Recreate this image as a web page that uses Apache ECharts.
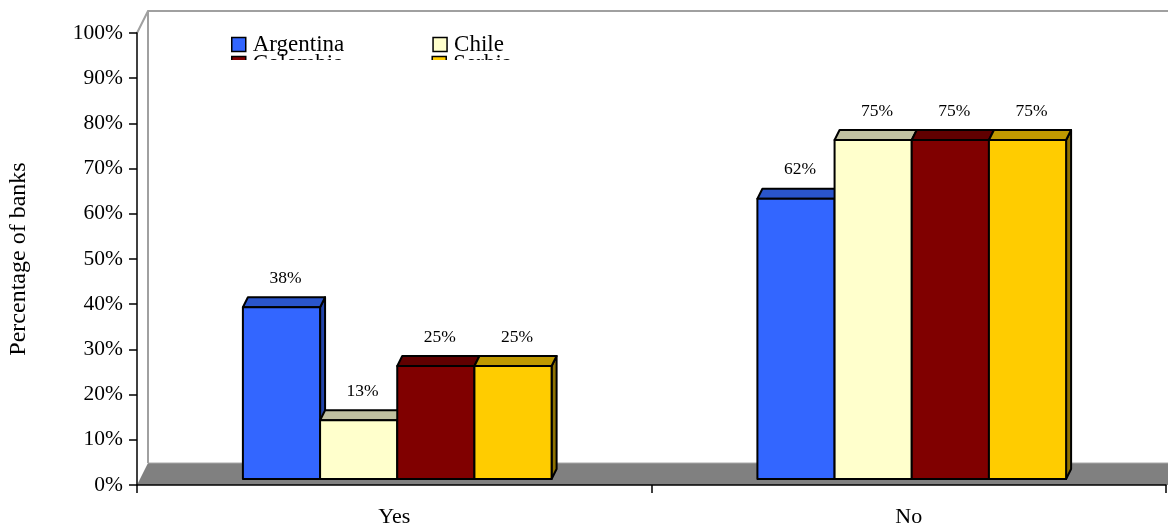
<!DOCTYPE html>
<html>
<head>
<meta charset="utf-8">
<script src="https://cdn.jsdelivr.net/npm/echarts@6/dist/echarts.min.js"></script>
<style>
html,body{margin:0;padding:0;background:#fff;}
#chart{width:1168px;height:527px;}
</style>
</head>
<body>
<div id="chart"></div>
<script>
// ---- data ----
const categories = ['Yes', 'No'];
const seriesNames = ['Argentina', 'Chile', 'Colombia', 'Serbia'];
const argentina = [38, 62];
const chile = [13, 75];
const colombia = [25, 75];
const serbia = [25, 75];
const yAxisTitle = 'Percentage of banks';

// ---- styling ----
const seriesValues = [argentina, chile, colombia, serbia];
const frontColors = ['#3366FF', '#FFFFCC', '#800000', '#FFCC00'];
const topColors = ['#2A55CC', '#C0C0A0', '#600000', '#C09900'];
const sideColors = ['#2244AA', '#9A9A80', '#4A0000', '#8F7200'];
const FONT = '"Liberation Serif", "Times New Roman", serif';
const WALL_DX = 11, WALL_DY = -22;   // depth of the floor / wall
const FRONT_DX = 3, FRONT_DY = -6;   // bars' front plane shift
const BAR_DX = 5, BAR_DY = -10;      // bar depth
const GROUP_FRAC = 0.6;

function renderWall(params, api) {
  const cs = params.coordSys;
  const x0 = cs.x, yBot = cs.y + cs.height, yTop = cs.y;
  const right = api.getWidth();
  return {
    type: 'group',
    children: [
      { type: 'polygon', shape: { points: [[x0, yBot], [x0 + WALL_DX, yBot + WALL_DY], [right, yBot + WALL_DY], [right, yBot]] },
        style: { fill: '#808080' } },
      { type: 'line', shape: { x1: x0 + WALL_DX, y1: yBot + WALL_DY, x2: right, y2: yBot + WALL_DY },
        style: { stroke: '#A8A8A8', lineWidth: 1 } },
      { type: 'polyline', shape: { points: [[x0, yTop], [x0 + WALL_DX, yTop + WALL_DY], [right, yTop + WALL_DY]] },
        style: { stroke: '#A0A0A0', lineWidth: 2, fill: null } },
      { type: 'line', shape: { x1: x0 + WALL_DX, y1: yTop + WALL_DY, x2: x0 + WALL_DX, y2: yBot + WALL_DY },
        style: { stroke: '#A0A0A0', lineWidth: 2 } }
    ]
  };
}

function makeBarRender(si) {
  const n = seriesNames.length;
  return function (params, api) {
    const c = api.value(0), v = api.value(1);
    const base = api.coord([c, 0]);
    const topPt = api.coord([c, v]);
    const band = api.size([1, 0])[0];
    const W = band * GROUP_FRAC / n;
    const xl = base[0] - W * n / 2 + si * W + FRONT_DX;
    const xr = xl + W;
    const yb = base[1] + FRONT_DY;
    const yt = topPt[1] + FRONT_DY;
    const stroke = { stroke: '#000', lineWidth: 2, lineJoin: 'round' };
    return {
      type: 'group',
      children: [
        { type: 'polygon', shape: { points: [[xr, yt], [xr + BAR_DX, yt + BAR_DY], [xr + BAR_DX, yb + BAR_DY], [xr, yb]] },
          style: Object.assign({ fill: sideColors[si] }, stroke) },
        { type: 'polygon', shape: { points: [[xl, yt], [xl + BAR_DX, yt + BAR_DY], [xr + BAR_DX, yt + BAR_DY], [xr, yt]] },
          style: Object.assign({ fill: topColors[si] }, stroke) },
        { type: 'rect', shape: { x: xl, y: yt, width: W, height: yb - yt },
          style: Object.assign({ fill: frontColors[si] }, stroke) },
        { type: 'text', style: { text: v + '%', x: (xl + xr) / 2 + 4, y: yt - 29, fill: '#000',
          fontSize: 17.5, fontFamily: FONT, align: 'center', verticalAlign: 'middle' } }
      ]
    };
  };
}

const series = [{
  type: 'custom', name: '_wall', silent: true, renderItem: renderWall,
  data: [[categories[0], 0]], z: 1
}];
seriesNames.forEach(function (name, si) {
  series.push({
    type: 'custom', name: name, renderItem: makeBarRender(si), z: 2,
    itemStyle: { color: frontColors[si], borderColor: '#000', borderWidth: 1.5 },
    encode: { x: 0, y: 1 },
    data: categories.map(function (c, i) { return [c, seriesValues[si][i]]; })
  });
});

const legendCommon = {
  orient: 'horizontal', left: 231, icon: 'rect', itemWidth: 14, itemHeight: 14, itemGap: 88, padding: 0,
  itemStyle: { borderColor: '#000', borderWidth: 1.5 },
  textStyle: { fontFamily: FONT, fontSize: 23, color: '#000', padding: [0, 0, 0, 2] },
  selectedMode: false
};

const chart = echarts.init(document.getElementById('chart'), null, { renderer: 'canvas' });
chart.setOption({
  animation: false,
  backgroundColor: '#fff',
  grid: { left: 137, right: 2, top: 33, bottom: 42, containLabel: false, outerBoundsMode: 'none' },
  legend: [
    Object.assign({}, legendCommon, { top: 33, data: seriesNames.slice(0, 2) }),
    Object.assign({}, legendCommon, { top: 52, data: seriesNames.slice(2, 4) })
  ],
  xAxis: {
    type: 'category', data: categories, z: 10,
    axisLine: { show: true, lineStyle: { color: '#000', width: 1.5 } },
    axisTick: { show: true, length: 8, lineStyle: { color: '#000', width: 1.5 } },
    axisLabel: { fontFamily: FONT, fontSize: 22, color: '#000', margin: 21 },
    splitLine: { show: false }
  },
  yAxis: {
    type: 'value', min: 0, max: 100, interval: 10, z: 10,
    name: yAxisTitle, nameLocation: 'middle', nameGap: 106, nameRotate: 90,
    nameTextStyle: { fontFamily: FONT, fontSize: 24, color: '#000' },
    axisLine: { show: true, lineStyle: { color: '#000', width: 1.5 } },
    axisTick: { show: true, length: 8, lineStyle: { color: '#000', width: 1.5 } },
    axisLabel: { fontFamily: FONT, fontSize: 21.5, color: '#000', margin: 14, formatter: '{value}%' },
    splitLine: { show: false }
  },
  graphic: [
    { type: 'rect', z: 100, shape: { x: 222, y: 60, width: 340, height: 24 }, style: { fill: '#fff' } }
  ],
  series: series
});
</script>
</body>
</html>
